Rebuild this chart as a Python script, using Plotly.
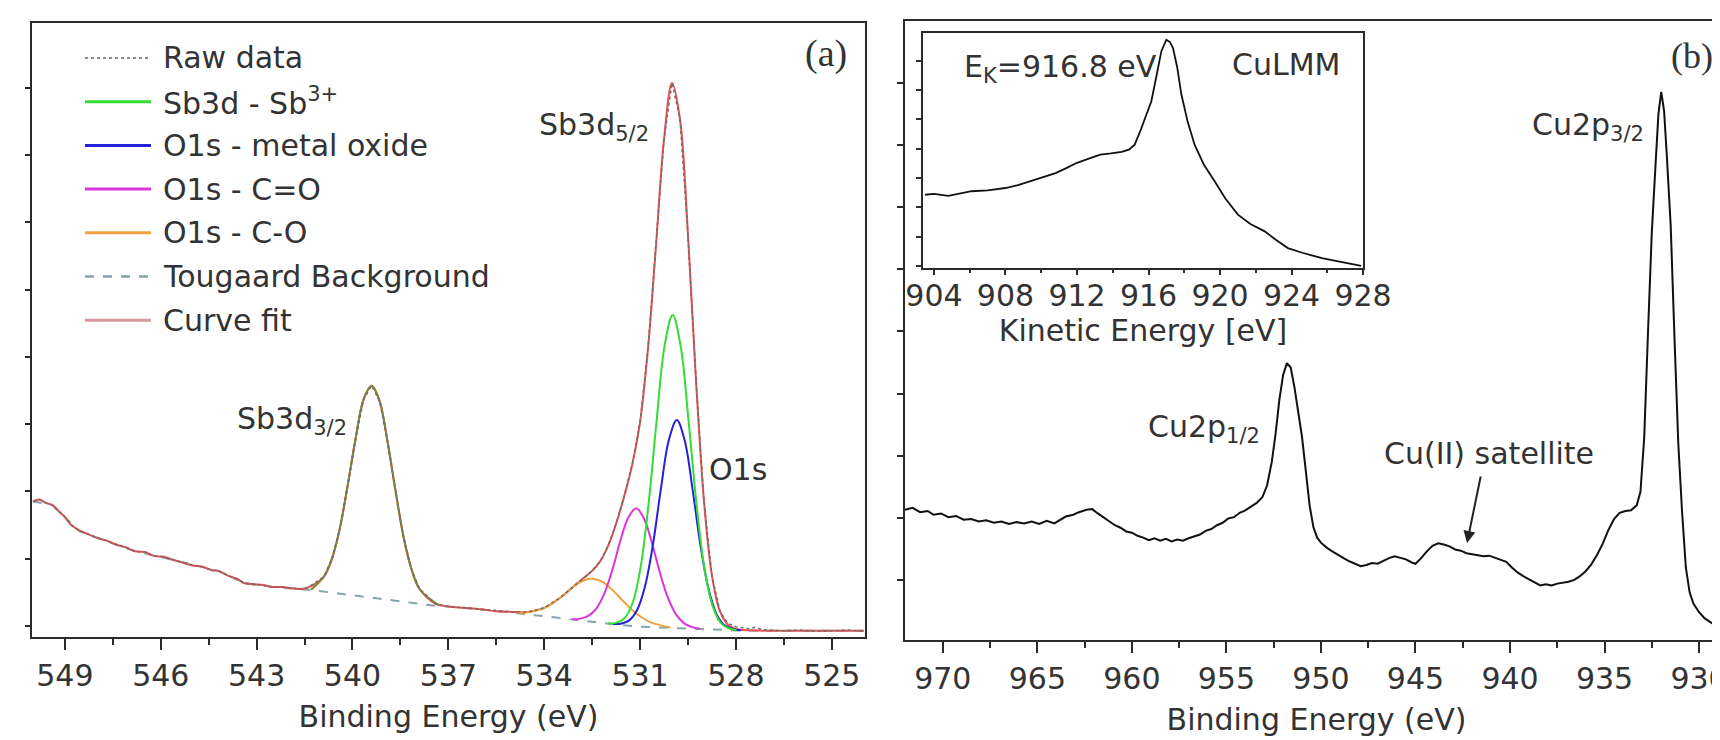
import plotly.graph_objects as go

W, H = 1720, 740
def px(x): return x / W
def py(y): return 1 - y / H

# ---------------- Panel (a): Sb3d / O1s ----------------
fit_E = [550.0, 549.8, 549.6, 549.4, 549.2, 549.0, 548.8, 548.55, 548.3, 548.0, 547.7, 547.4,
         547.1, 546.8, 546.5, 546.2, 545.9, 545.6, 545.3, 545.0, 544.7, 544.4, 544.2, 543.9,
         543.6, 543.4, 543.1, 542.8, 542.5, 542.2, 541.9, 541.6, 541.4,
         540.9, 540.65, 540.4, 540.15, 539.9, 539.65, 539.4, 539.15, 538.9, 538.65, 538.4,
         538.15, 537.9, 537.4,
         537.0, 536.5, 536.0, 535.5, 535.0, 534.5, 534.0, 533.5, 533.0, 532.75, 532.5, 532.25,
         532.0, 531.75, 531.5, 531.25, 531.0, 530.75, 530.5, 530.25, 530.0, 529.75, 529.5,
         529.25, 529.0, 528.75, 528.5, 528.25, 528.0, 527.75, 527.0, 526.0, 525.0, 524.0]
fit_I = [2.85, 2.88, 2.83, 2.80, 2.71, 2.62, 2.50, 2.42, 2.37, 2.31, 2.27, 2.21,
         2.17, 2.11, 2.10, 2.04, 2.03, 1.98, 1.94, 1.90, 1.88, 1.83, 1.82, 1.75,
         1.70, 1.64, 1.62, 1.61, 1.58, 1.58, 1.56, 1.55, 1.57,
         1.73, 1.99, 2.44, 3.09, 3.79, 4.37, 4.57, 4.34, 3.73, 3.00, 2.32,
         1.84, 1.55, 1.33,
         1.29, 1.27, 1.25, 1.22, 1.21, 1.21, 1.27, 1.42, 1.62, 1.72, 1.82, 1.96,
         2.19, 2.52, 2.92, 3.39, 4.03, 5.13, 6.66, 8.23, 9.07, 8.53, 6.81,
         4.66, 2.86, 1.75, 1.22, 1.02, 0.955, 0.94, 0.93, 0.93, 0.93, 0.93]

raw_E = [550.0, 549.8, 549.6, 549.4, 549.2, 549.0, 548.8, 548.55, 548.3, 548.0, 547.7, 547.4,
         547.1, 546.8, 546.5, 546.2, 545.9, 545.6, 545.3, 545.0, 544.7, 544.4, 544.2, 543.9,
         543.6, 543.4, 543.1, 542.8, 542.5, 542.2, 541.9, 541.6, 541.4,
         540.9, 540.65, 540.4, 540.15, 539.9, 539.65, 539.4, 539.15, 538.9, 538.65, 538.4,
         538.15, 537.9, 537.4,
         537.0, 536.5, 536.0, 535.5, 535.0, 534.5, 534.0, 533.5, 533.0, 532.75, 532.5, 532.25,
         532.0, 531.75, 531.5, 531.25, 531.0, 530.75, 530.5, 530.25, 530.0, 529.75, 529.5,
         529.25, 529.0, 528.75, 528.5, 528.25, 528.0, 527.8, 527.6, 527.4, 527.2, 527.0,
         526.5, 526.0, 525.5, 525.0, 524.5, 524.0]
raw_I = [2.85, 2.88, 2.83, 2.80, 2.71, 2.62, 2.50, 2.42, 2.37, 2.31, 2.27, 2.21,
         2.17, 2.11, 2.10, 2.04, 2.03, 1.98, 1.94, 1.90, 1.88, 1.83, 1.82, 1.75,
         1.70, 1.64, 1.62, 1.61, 1.58, 1.58, 1.56, 1.55, 1.57,
         1.73, 1.99, 2.44, 3.09, 3.79, 4.37, 4.57, 4.34, 3.73, 3.00, 2.32,
         1.84, 1.55, 1.33,
         1.29, 1.27, 1.25, 1.22, 1.21, 1.21, 1.27, 1.42, 1.62, 1.72, 1.82, 1.96,
         2.19, 2.52, 2.92, 3.39, 4.03, 5.13, 6.66, 8.23, 9.07, 8.53, 6.81,
         4.66, 2.86, 1.75, 1.22, 1.04, 0.99, 0.97, 0.96, 0.98, 0.95, 0.94,
         0.93, 0.94, 0.92, 0.93, 0.94, 0.92]

bg_E = [550.0, 549.4, 548.55, 547.7, 546.8, 545.6, 544.2, 543.4, 542.5, 541.2, 537.4, 537.0,
        536.0, 535.0, 534.5, 534.0, 533.5, 533.0, 532.5, 532.0, 531.5, 531.0, 530.5, 530.0,
        529.5, 529.0, 528.5, 528.0, 527.0, 524.0]
bg_I = [2.85, 2.80, 2.41, 2.26, 2.11, 1.98, 1.82, 1.64, 1.58, 1.53, 1.30, 1.29,
        1.25, 1.20, 1.17, 1.15, 1.12, 1.09, 1.06, 1.03, 1.01, 0.99, 0.98, 0.97,
        0.96, 0.95, 0.94, 0.935, 0.93, 0.93]

sb32_E = [541.3, 540.9, 540.65, 540.4, 540.15, 539.9, 539.65, 539.4, 539.15, 538.9, 538.65,
          538.4, 538.15, 537.9, 537.3]
sb32_I = [1.54, 1.73, 1.99, 2.44, 3.09, 3.79, 4.37, 4.57, 4.34, 3.73, 3.00,
          2.32, 1.84, 1.55, 1.31]
sb52_E = [532.0, 531.73, 531.48, 531.23, 530.98, 530.73, 530.48, 530.23, 529.98, 529.73,
          529.48, 529.23, 528.98, 528.73, 528.48, 528.23, 527.98]
sb52_I = [1.036, 1.05, 1.12, 1.35, 1.88, 2.83, 4.06, 5.17, 5.62, 5.16,
          4.04, 2.80, 1.84, 1.30, 1.05, 0.967, 0.941]
mox_E = [531.85, 531.6, 531.35, 531.1, 530.85, 530.6, 530.35, 530.1, 529.85, 529.6,
         529.35, 529.1, 528.85, 528.6, 528.35, 528.1, 527.85]
mox_I = [1.03, 1.035, 1.08, 1.23, 1.58, 2.20, 3.03, 3.76, 4.06, 3.75,
         3.01, 2.17, 1.54, 1.17, 1.01, 0.956, 0.938]
cdo_E = [533.12, 532.87, 532.62, 532.37, 532.12, 531.87, 531.62, 531.37, 531.12, 530.87,
         530.62, 530.37, 530.12, 529.87, 529.62, 529.37, 529.12]
cdo_I = [1.10, 1.11, 1.15, 1.26, 1.48, 1.83, 2.26, 2.61, 2.75, 2.59,
         2.22, 1.78, 1.41, 1.17, 1.04, 0.984, 0.958]
cso_E = [534.85, 534.55, 534.25, 533.95, 533.65, 533.35, 533.05, 532.75, 532.45, 532.15,
         531.85, 531.55, 531.25, 530.95, 530.65, 530.35, 530.05]
cso_I = [1.20, 1.20, 1.23, 1.28, 1.37, 1.48, 1.60, 1.68, 1.70, 1.65,
         1.53, 1.38, 1.24, 1.13, 1.05, 1.01, 0.98]

a_ticks = [549, 546, 543, 540, 537, 534, 531, 528, 525]

# ---------------- Panel (b): Cu2p ----------------
cu_E = [972.0, 971.6, 971.2, 970.8, 970.5, 970.1, 969.7, 969.3, 968.9, 968.5, 968.1, 967.7,
        967.3, 966.9, 966.5, 966.1, 965.7, 965.3, 964.9, 964.5, 964.1, 963.8, 963.5, 963.1,
        962.8, 962.4, 962.1, 961.8, 961.5, 961.2, 960.9, 960.6, 960.3, 960.0, 959.7, 959.4,
        959.1, 958.8, 958.5, 958.2, 957.9, 957.6, 957.3, 957.0, 956.7, 956.4, 956.1, 955.8,
        955.5, 955.2, 954.9, 954.6, 954.3, 954.0, 953.7, 953.4, 953.1, 952.85, 952.6, 952.4,
        952.2, 952.0, 951.8, 951.6, 951.4, 951.2, 951.0, 950.8, 950.6, 950.4, 950.2, 950.0,
        949.7, 949.4, 949.1, 948.8, 948.5, 948.2, 947.9, 947.6, 947.3, 947.0, 946.7, 946.4,
        946.1, 945.8, 945.5, 945.2, 945.0, 944.7, 944.4, 944.1, 943.8, 943.5, 943.2, 942.9,
        942.6, 942.3, 942.0, 941.7, 941.4, 941.1, 940.8, 940.5, 940.2, 939.9, 939.6, 939.3,
        939.0, 938.7, 938.4, 938.1, 937.8, 937.5, 937.2, 936.9, 936.6, 936.3, 936.0, 935.7,
        935.4, 935.1, 934.8, 934.5, 934.2, 933.9, 933.6, 933.3, 933.1, 932.9, 932.7, 932.5,
        932.3, 932.15, 932.0, 931.85, 931.7, 931.5, 931.3, 931.1, 930.9, 930.7, 930.5, 930.3,
        930.0, 929.7, 929.3, 929.0, 928.7, 928.4]
cu_I = [2.13, 2.16, 2.09, 2.11, 2.05, 2.07, 2.01, 2.03, 1.97, 1.98, 1.94, 1.96,
        1.92, 1.94, 1.90, 1.93, 1.91, 1.94, 1.90, 1.95, 1.91, 1.97, 2.02, 2.05,
        2.09, 2.13, 2.14, 2.07, 2.01, 1.94, 1.88, 1.84, 1.78, 1.76, 1.71, 1.68,
        1.64, 1.67, 1.63, 1.66, 1.62, 1.65, 1.63, 1.67, 1.70, 1.73, 1.79, 1.82,
        1.88, 1.92, 1.99, 2.01, 2.08, 2.12, 2.18, 2.24, 2.33, 2.52, 2.90, 3.35,
        3.90, 4.30, 4.49, 4.42, 4.10, 3.70, 3.30, 2.75, 2.20, 1.85, 1.68, 1.60,
        1.52, 1.46, 1.40, 1.35, 1.30, 1.26, 1.22, 1.24, 1.27, 1.26, 1.31, 1.35,
        1.38, 1.36, 1.33, 1.28, 1.26, 1.35, 1.46, 1.55, 1.59, 1.57, 1.54, 1.49,
        1.47, 1.43, 1.41, 1.40, 1.38, 1.39, 1.36, 1.33, 1.29, 1.20, 1.12, 1.06,
        1.01, 0.96, 0.91, 0.93, 0.91, 0.94, 0.95, 0.97, 1.00, 1.06, 1.14, 1.25,
        1.40, 1.58, 1.80, 1.98, 2.08, 2.11, 2.12, 2.20, 2.42, 3.30, 5.00, 6.60,
        7.70, 8.50, 8.86, 8.55, 7.80, 6.70, 4.90, 3.20, 2.10, 1.20, 0.80, 0.62,
        0.48, 0.38, 0.30, 0.24, 0.20, 0.18]
b_ticks = [970, 965, 960, 955, 950, 945, 940, 935, 930]

# ---------------- Inset: CuLMM ----------------
lmm_E = [903.5, 904.0, 904.8, 905.5, 906.1, 907.0, 908.0, 908.7, 909.4, 910.1, 910.8, 911.4,
         912.0, 912.7, 913.3, 913.9, 914.5, 914.9, 915.23, 915.6, 916.16, 916.45, 916.72,
         917.0, 917.2, 917.37, 917.6, 917.84, 918.2, 918.58, 919.1, 919.7, 920.3, 921.0,
         921.7, 922.5, 923.1, 923.8, 924.6, 925.7, 926.5, 927.2, 927.9]
lmm_I = [2.43, 2.46, 2.39, 2.48, 2.55, 2.58, 2.66, 2.76, 2.90, 3.02, 3.17, 3.34,
         3.52, 3.67, 3.80, 3.84, 3.89, 3.97, 4.14, 4.70, 5.62, 6.50, 7.33,
         7.72, 7.64, 7.44, 6.80, 5.85, 4.90, 4.14, 3.45, 2.89, 2.30, 1.75,
         1.43, 1.18, 0.90, 0.61, 0.45, 0.27, 0.17, 0.08, 0.00]
lmm_ticks = [904, 908, 912, 916, 920, 924, 928]

# ---------------- styles ----------------
FONT = "DejaVu Sans"
TXT = "#333333"
AX = "#2a2a2a"
C_RAW = "#6e6e6e"
C_GREEN = "#33dd33"
C_BLUE = "#2222dd"
C_MAG = "#dd33dd"
C_ORANGE = "#f2a040"
C_BG = "#86a3aa"
C_FIT = "#e5504e"

fig = go.Figure()

def add(x, y, color, width=2, dash="solid", xa="x", ya="y", shape="linear", name=None):
    fig.add_trace(go.Scatter(x=x, y=y, mode="lines", xaxis=xa, yaxis=ya, name=name,
                             showlegend=False,
                             line=dict(color=color, width=width, dash=dash, shape=shape)))

add(bg_E, bg_I, C_BG, 2, "dash", name="Tougaard Background")
add(fit_E, fit_I, C_FIT, 2, shape="spline", name="Curve fit")
add(cso_E, cso_I, C_ORANGE, 2, shape="spline", name="O1s - C-O")
add(cdo_E, cdo_I, C_MAG, 2, shape="spline", name="O1s - C=O")
add(mox_E, mox_I, C_BLUE, 2, shape="spline", name="O1s - metal oxide")
add(sb52_E, sb52_I, C_GREEN, 2, shape="spline", name="Sb3d - Sb3+")
add(sb32_E, sb32_I, "#7f8a3a", 2, shape="spline", name="Sb3d - Sb3+")
add(raw_E, raw_I, C_RAW, 1.5, "dot", name="Raw data")

add(cu_E, cu_I, "#111111", 2, xa="x2", ya="y2", name="Cu2p")
add(lmm_E, lmm_I, "#111111", 1.8, xa="x3", ya="y3", name="CuLMM")

axline = dict(showline=True, linecolor=AX, linewidth=2, showgrid=False, zeroline=False,
              automargin=False, ticks="outside", tickcolor=AX, tickwidth=2,
              tickfont=dict(family=FONT, size=30, color=TXT))

fig.update_layout(
    width=W, height=H, margin=dict(l=0, r=0, t=0, b=0),
    paper_bgcolor="white", plot_bgcolor="white", showlegend=False,
    xaxis=dict(**axline, domain=[px(24), px(857)], range=[550.03, 523.96],
               tickvals=a_ticks, ticklen=11, mirror=True,
               minor=dict(ticks="outside", ticklen=6, tickwidth=2, tickcolor=AX, dtick=1.5, tick0=525),
               title=dict(text="Binding Energy (eV)", font=dict(family=FONT, size=30, color=TXT), standoff=14),
               anchor="y"),
    yaxis=dict(**axline, domain=[py(629), py(15)], range=[0.837, 9.96],
               tickvals=[1, 2, 3, 4, 5, 6, 7, 8, 9], ticklen=5, showticklabels=False, mirror=True,
               anchor="x"),
    xaxis2=dict(**axline, domain=[px(897), 1.0], range=[972.0, 928.47],
                tickvals=b_ticks, ticklen=11, mirror=True,
                minor=dict(ticks="outside", ticklen=6, tickwidth=2, tickcolor=AX, dtick=2.5, tick0=930),
                title=dict(text="Binding Energy (eV)", font=dict(family=FONT, size=30, color=TXT), standoff=14),
                anchor="y2"),
    yaxis2=dict(**axline, domain=[py(632), py(13)], range=[0.032, 10.0],
                tickvals=[1, 2, 3, 4, 5, 6, 7, 8, 9], ticklen=6, showticklabels=False,
                anchor="x2"),
    xaxis3=dict(**axline, domain=[px(915), px(1355)], range=[903.385, 928.0],
                tickvals=lmm_ticks, ticklen=5, mirror=True, ticklabelstandoff=-5,
                minor=dict(ticks="outside", ticklen=3, tickwidth=2, tickcolor=AX, dtick=2, tick0=904),
                title=dict(text="Kinetic Energy [eV]", font=dict(family=FONT, size=30, color=TXT), standoff=0),
                anchor="y3"),
    yaxis3=dict(**axline, domain=[py(260), py(25)], range=[-0.07, 7.95],
                tickvals=[0, 1, 2, 3, 4, 5, 6, 7], ticklen=5, showticklabels=False, mirror=True,
                anchor="x3"),
)

ann = []
def label(text, x, y, size=30, family=FONT, xanchor="center"):
    ann.append(dict(text=text, x=px(x), y=py(y), xref="paper", yref="paper",
                    xanchor=xanchor, yanchor="middle", showarrow=False,
                    font=dict(family=family, size=size, color=TXT)))

label("Sb3d<sub>5/2</sub>", 586, 118)
label("Sb3d<sub>3/2</sub>", 284, 412)
label("O1s", 730, 462)
label("(a)", 818, 45, 38, "Liberation Serif")
label("Cu2p<sub>3/2</sub>", 1580, 118)
label("Cu2p<sub>1/2</sub>", 1196, 420)
label("Cu(II) satellite", 1481, 446)
label("(b)", 1684, 48, 36, "Liberation Serif")
label("E<sub>K</sub>=916.8 eV", 1052, 60)
label("CuLMM", 1278, 57)

ann.append(dict(x=px(1459), y=py(535), xref="paper", yref="paper", ax=14, ay=-68,
                showarrow=True, arrowhead=2, arrowsize=1.2, arrowwidth=2, arrowcolor="#222",
                text=""))

# legend (panel a)
leg_items = [("Raw data", "#8c8c8c", "dot", 1.8),
             ("Sb3d - Sb<sup>3+</sup>", C_GREEN, "solid", 3),
             ("O1s - metal oxide", C_BLUE, "solid", 3),
             ("O1s - C=O", C_MAG, "solid", 3),
             ("O1s - C-O", C_ORANGE, "solid", 3),
             ("Tougaard Background", C_BG, "dash", 2.5),
             ("Curve fit", "#d9969c", "solid", 3)]
shapes = []
for i, (txt, col, dash, w) in enumerate(leg_items):
    yy = 50 + 43.7 * i
    shapes.append(dict(type="line", xref="paper", yref="paper", x0=px(77), x1=px(143),
                       y0=py(yy), y1=py(yy), line=dict(color=col, width=w, dash=dash)))
    ann.append(dict(text=txt, x=px(153), y=py(yy), xref="paper", yref="paper",
                    xanchor="left", yanchor="middle", showarrow=False,
                    font=dict(family=FONT, size=30, color=TXT)))

fig.update_layout(annotations=ann, shapes=shapes)
fig.write_html("out.html")
